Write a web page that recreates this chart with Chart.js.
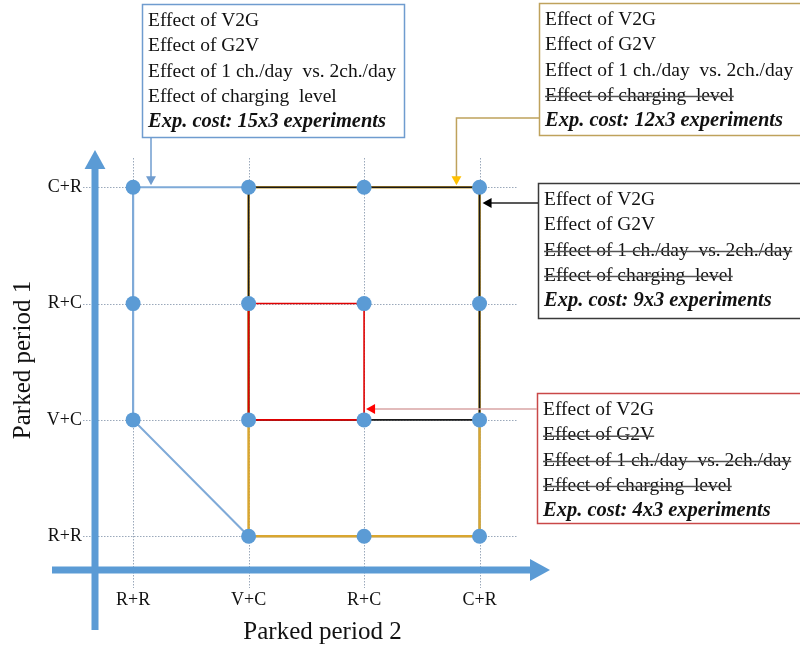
<!DOCTYPE html>
<html lang="en">
<head>
    <meta charset="UTF-8">
    <title>Parked periods</title>
    <script src="https://cdn.jsdelivr.net/npm/chart.js"></script>
    <style>
        body { margin: 0; background: #fff; }
    </style>
</head>
<body>
    <canvas id="expChart" width="800" height="651"></canvas>

    <script>
        // category labels, same order on both axes (bottom/left first)
        const period2Labels = ['R+R', 'V+C', 'R+C', 'C+R'];
        const period1Labels = ['R+R', 'V+C', 'R+C', 'C+R'];

        // the 15 experiment points (period 2, period 1)
        const expX = ['R+R', 'R+R', 'R+R', 'V+C', 'V+C', 'V+C', 'V+C', 'R+C', 'R+C', 'R+C', 'R+C', 'C+R', 'C+R', 'C+R', 'C+R'];
        const expY = ['C+R', 'R+C', 'V+C', 'C+R', 'R+C', 'V+C', 'R+R', 'C+R', 'R+C', 'V+C', 'R+R', 'C+R', 'R+C', 'V+C', 'R+R'];

        // outlines of each design
        const blueX = ['R+R', 'C+R', 'C+R', 'V+C', 'R+R', 'R+R'];
        const blueY = ['C+R', 'C+R', 'R+R', 'R+R', 'V+C', 'C+R'];
        const goldX = ['V+C', 'C+R', 'C+R', 'V+C', 'V+C'];
        const goldY = ['R+R', 'R+R', 'C+R', 'C+R', 'R+R'];
        const blackX = ['V+C', 'C+R', 'C+R', 'V+C', 'V+C'];
        const blackY = ['V+C', 'V+C', 'C+R', 'C+R', 'V+C'];
        const redX = ['V+C', 'R+C', 'R+C', 'V+C', 'V+C'];
        const redY = ['V+C', 'V+C', 'R+C', 'R+C', 'V+C'];

        // callout texts, struck = crossed out
        const effectLines = ['Effect of V2G', 'Effect of G2V', 'Effect of 1 ch./day  vs. 2ch./day', 'Effect of charging  level'];
        const costLabels = ['Exp. cost: 15x3 experiments', 'Exp. cost: 12x3 experiments', 'Exp. cost: 9x3 experiments', 'Exp. cost: 4x3 experiments'];
        const struckLines = [[], [3], [2, 3], [1, 2, 3]];

        function toPoints(xs, ys) {
            return xs.map((x, i) => ({ x: period2Labels.indexOf(x), y: period1Labels.indexOf(ys[i]) }));
        }

        const serif = "'Liberation Serif', 'Times New Roman', serif";
        const axisBlue = '#5B9BD5';

        function arrowHead(ctx, x, y, dir, size, color) {
            ctx.save();
            ctx.fillStyle = color;
            ctx.translate(x, y);
            ctx.rotate(dir);
            ctx.beginPath();
            ctx.moveTo(0, 0);
            ctx.lineTo(-size, -size * 0.55);
            ctx.lineTo(-size, size * 0.55);
            ctx.closePath();
            ctx.fill();
            ctx.restore();
        }

        // dotted grid + the two fat arrow axes
        const backdrop = {
            id: 'backdrop',
            beforeDatasetsDraw(chart) {
                const ctx = chart.ctx;
                const xs = chart.scales.x, ys = chart.scales.y;
                const area = chart.chartArea;
                ctx.save();
                ctx.strokeStyle = '#9AA8BA';
                ctx.lineWidth = 1;
                ctx.setLineDash([1.5, 1.5]);
                period2Labels.forEach((l, i) => {
                    const px = Math.round(xs.getPixelForValue(i)) + 0.5;
                    ctx.beginPath();
                    ctx.moveTo(px, area.top + 8);
                    ctx.lineTo(px, area.bottom + 18);
                    ctx.stroke();
                });
                period1Labels.forEach((l, i) => {
                    const py = Math.round(ys.getPixelForValue(i)) + 0.5;
                    ctx.beginPath();
                    ctx.moveTo(area.left - 12, py);
                    ctx.lineTo(xs.getPixelForValue(3.33), py);
                    ctx.stroke();
                });
                ctx.setLineDash([]);

                // axes
                ctx.strokeStyle = axisBlue;
                ctx.lineWidth = 7;
                ctx.beginPath();
                ctx.moveTo(area.left, area.bottom + 60);
                ctx.lineTo(area.left, area.top + 16);
                ctx.moveTo(area.left - 43, area.bottom);
                ctx.lineTo(area.right - 18, area.bottom);
                ctx.stroke();
                arrowHead(ctx, area.left, area.top, -Math.PI / 2, 19, axisBlue);
                arrowHead(ctx, area.right, area.bottom, 0, 20, axisBlue);
                ctx.restore();
            }
        };

        // text boxes with their pointers
        const boxes = [
            { x: 142, y: 4, w: 262, h: 133, color: '#6F9CCF' },
            { x: 539, y: 3, w: 270, h: 132, color: '#BFA25C' },
            { x: 538, y: 183, w: 270, h: 135, color: '#3A3A3A' },
            { x: 537, y: 393, w: 270, h: 130, color: '#C94848' }
        ];

        const callouts = {
            id: 'callouts',
            afterDraw(chart) {
                const ctx = chart.ctx;
                const xs = chart.scales.x, ys = chart.scales.y;
                const topY = ys.getPixelForValue(3);
                ctx.save();

                boxes.forEach((b, k) => {
                    ctx.fillStyle = '#fff';
                    ctx.fillRect(b.x, b.y, b.w, b.h);
                    ctx.strokeStyle = b.color;
                    ctx.lineWidth = 1.5;
                    ctx.strokeRect(b.x + 0.5, b.y + 0.5, b.w, b.h);

                    ctx.textBaseline = 'middle';
                    ctx.textAlign = 'left';
                    const rows = effectLines.concat([costLabels[k]]);
                    rows.forEach((t, r) => {
                        const ty = b.y + 17 + r * 25.2;
                        const tx = b.x + 6;
                        ctx.fillStyle = '#111';
                        ctx.font = r === 4 ? 'bold italic 20.5px ' + serif : '19.5px ' + serif;
                        ctx.fillText(t, tx, ty);
                        if (struckLines[k].includes(r)) {
                            const w = ctx.measureText(t).width;
                            ctx.strokeStyle = '#555';
                            ctx.lineWidth = 1.5;
                            ctx.beginPath();
                            ctx.moveTo(tx, ty + 1);
                            ctx.lineTo(tx + w, ty + 1);
                            ctx.stroke();
                        }
                    });
                });

                ctx.lineWidth = 1.5;
                // blue box -> top edge
                ctx.strokeStyle = '#6F9CCF';
                ctx.beginPath();
                ctx.moveTo(151, 138);
                ctx.lineTo(151, topY - 10);
                ctx.stroke();
                arrowHead(ctx, 151, topY - 2, Math.PI / 2, 9, '#6F9CCF');

                // gold box -> top edge
                const gx = xs.getPixelForValue(2.8);
                ctx.strokeStyle = '#BFA25C';
                ctx.beginPath();
                ctx.moveTo(539, 118);
                ctx.lineTo(gx, 118);
                ctx.lineTo(gx, topY - 10);
                ctx.stroke();
                arrowHead(ctx, gx, topY - 2, Math.PI / 2, 9, '#FFC000');

                // black box -> right edge
                const bx = xs.getPixelForValue(3) + 3;
                ctx.strokeStyle = '#222';
                ctx.beginPath();
                ctx.moveTo(538, 203);
                ctx.lineTo(bx + 8, 203);
                ctx.stroke();
                arrowHead(ctx, bx, 203, Math.PI, 9, '#000');

                // red box -> small square
                const rx = xs.getPixelForValue(2) + 2;
                ctx.strokeStyle = '#D9A5A5';
                ctx.beginPath();
                ctx.moveTo(537, 409);
                ctx.lineTo(rx + 8, 409);
                ctx.stroke();
                arrowHead(ctx, rx, 409, Math.PI, 9, '#FF0000');

                ctx.restore();
            }
        };

        function outline(data, color, width, order) {
            return {
                data: data,
                showLine: true,
                borderColor: color,
                borderWidth: width,
                pointRadius: 0,
                fill: false,
                tension: 0,
                order: order
            };
        }

        const tickFont = { family: serif, size: 18 };
        const titleFont = { family: serif, size: 25 };

        const ctx = document.getElementById('expChart').getContext('2d');
        const chart = new Chart(ctx, {
            type: 'scatter',
            data: {
                datasets: [
                    {
                        data: toPoints(expX, expY),
                        backgroundColor: '#5B9BD5',
                        borderWidth: 0,
                        pointRadius: 7.5,
                        order: 0
                    },
                    outline(toPoints(redX, redY), '#E00000', 1.6, 1),
                    outline(toPoints(blackX, blackY), '#1A1A1A', 1.6, 2),
                    outline(toPoints(goldX, goldY), '#D9A630', 2.5, 3),
                    outline(toPoints(blueX, blueY), '#7FAAD8', 2.2, 4)
                ]
            },
            options: {
                responsive: false,
                animation: false,
                layout: { padding: { left: 0, top: 150, right: 250, bottom: 0 } },
                plugins: {
                    legend: { display: false },
                    tooltip: { enabled: false }
                },
                scales: {
                    x: {
                        type: 'linear',
                        min: -0.33,
                        max: 3.61,
                        grid: { display: false, drawTicks: false },
                        border: { display: false },
                        afterBuildTicks: s => { s.ticks = period2Labels.map((l, i) => ({ value: i })); },
                        afterFit: s => { s.height = 81; },
                        ticks: {
                            padding: 19,
                            color: '#111',
                            font: tickFont,
                            maxRotation: 0,
                            callback: v => period2Labels[v]
                        },
                        title: {
                            display: true,
                            text: 'Parked period 2',
                            color: '#111',
                            font: titleFont,
                            padding: { top: 0, bottom: 4 }
                        }
                    },
                    y: {
                        type: 'linear',
                        min: -0.29,
                        max: 3.32,
                        grid: { display: false, drawTicks: false },
                        border: { display: false },
                        afterBuildTicks: s => { s.ticks = period1Labels.map((l, i) => ({ value: i })); },
                        afterFit: s => { s.width = 95; },
                        ticks: {
                            padding: 13,
                            color: '#111',
                            font: tickFont,
                            callback: v => period1Labels[v]
                        },
                        title: {
                            display: true,
                            text: 'Parked period 1',
                            color: '#111',
                            font: titleFont,
                            padding: { top: 8, bottom: 0 }
                        }
                    }
                }
            },
            plugins: [backdrop, callouts]
        });
    </script>
</body>
</html>
